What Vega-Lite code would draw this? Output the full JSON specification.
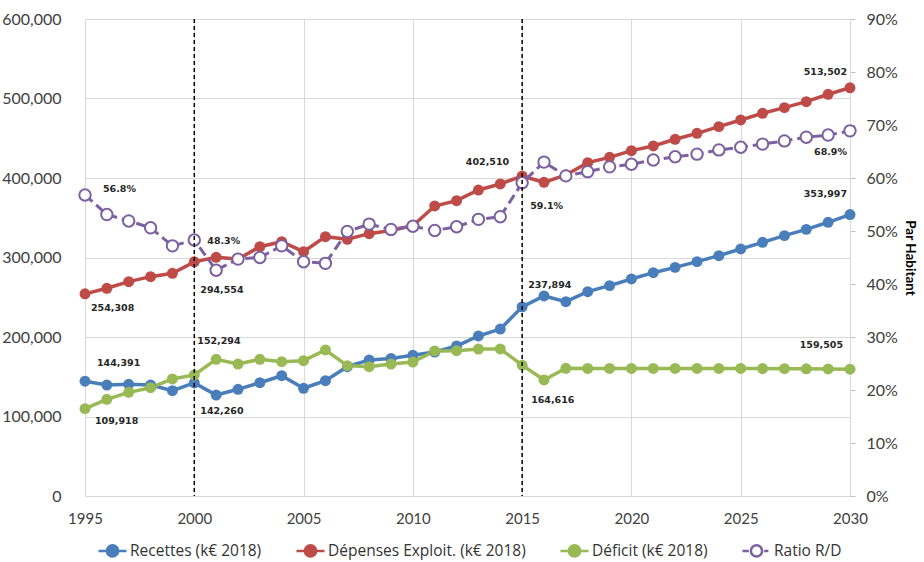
{
  "$schema": "https://vega.github.io/schema/vega-lite/v6.json",
  "width": 765,
  "height": 477,
  "autosize": {"type": "none"},
  "padding": {"left": 85, "top": 19, "right": 74, "bottom": 66},
  "background": "#ffffff",
  "data": {
    "values": [
      {"year": 1995, "R": 144391, "D": 254308, "Def": 109918, "Ratio": 0.568},
      {"year": 1996, "R": 139600, "D": 261300, "Def": 121600, "Ratio": 0.531},
      {"year": 1997, "R": 140500, "D": 269600, "Def": 130400, "Ratio": 0.519},
      {"year": 1998, "R": 139600, "D": 275900, "Def": 136200, "Ratio": 0.506},
      {"year": 1999, "R": 132500, "D": 280100, "Def": 147200, "Ratio": 0.472},
      {"year": 2000, "R": 142260, "D": 294554, "Def": 152294, "Ratio": 0.483},
      {"year": 2001, "R": 127000, "D": 300200, "Def": 172000, "Ratio": 0.426},
      {"year": 2002, "R": 134200, "D": 298000, "Def": 166000, "Ratio": 0.447},
      {"year": 2003, "R": 142500, "D": 313600, "Def": 172000, "Ratio": 0.450},
      {"year": 2004, "R": 151300, "D": 319900, "Def": 168900, "Ratio": 0.472},
      {"year": 2005, "R": 135500, "D": 307300, "Def": 170200, "Ratio": 0.442},
      {"year": 2006, "R": 145000, "D": 326200, "Def": 183700, "Ratio": 0.439},
      {"year": 2007, "R": 162700, "D": 322900, "Def": 164000, "Ratio": 0.499},
      {"year": 2008, "R": 171000, "D": 330000, "Def": 162700, "Ratio": 0.513},
      {"year": 2009, "R": 173000, "D": 334000, "Def": 166000, "Ratio": 0.503},
      {"year": 2010, "R": 177000, "D": 340000, "Def": 168500, "Ratio": 0.509},
      {"year": 2011, "R": 181100, "D": 364800, "Def": 182400, "Ratio": 0.501},
      {"year": 2012, "R": 188700, "D": 371500, "Def": 182800, "Ratio": 0.508},
      {"year": 2013, "R": 201300, "D": 384900, "Def": 184900, "Ratio": 0.522},
      {"year": 2014, "R": 210000, "D": 392500, "Def": 185000, "Ratio": 0.527},
      {"year": 2015, "R": 237894, "D": 402510, "Def": 164616, "Ratio": 0.591},
      {"year": 2016, "R": 251600, "D": 394600, "Def": 146000, "Ratio": 0.630},
      {"year": 2017, "R": 244400, "D": 403800, "Def": 160600, "Ratio": 0.604},
      {"year": 2018, "R": 257000, "D": 419300, "Def": 160500, "Ratio": 0.612},
      {"year": 2019, "R": 264600, "D": 426000, "Def": 160500, "Ratio": 0.621},
      {"year": 2020, "R": 273000, "D": 434400, "Def": 160500, "Ratio": 0.626},
      {"year": 2021, "R": 280900, "D": 440300, "Def": 160500, "Ratio": 0.634},
      {"year": 2022, "R": 287600, "D": 448700, "Def": 160500, "Ratio": 0.640},
      {"year": 2023, "R": 294800, "D": 456200, "Def": 160500, "Ratio": 0.645},
      {"year": 2024, "R": 302300, "D": 464600, "Def": 160500, "Ratio": 0.653},
      {"year": 2025, "R": 310700, "D": 473000, "Def": 160400, "Ratio": 0.658},
      {"year": 2026, "R": 319100, "D": 481400, "Def": 160300, "Ratio": 0.664},
      {"year": 2027, "R": 327500, "D": 488500, "Def": 160200, "Ratio": 0.670},
      {"year": 2028, "R": 335400, "D": 496000, "Def": 160000, "Ratio": 0.677},
      {"year": 2029, "R": 344300, "D": 505300, "Def": 159800, "Ratio": 0.681},
      {"year": 2030, "R": 353997, "D": 513502, "Def": 159505, "Ratio": 0.689}
    ]
  },
  "config": {
    "view": {"stroke": null},
    "font": "Lato",
    "axis": {
      "labelFont": "Lato",
      "labelFontSize": 15,
      "labelColor": "#404040",
      "gridColor": "#d9d9d9",
      "gridWidth": 1,
      "title": null
    },
    "text": {"font": "DejaVu Sans", "fontSize": 9.5, "fontWeight": "bold"}
  },
  "layer": [
    {
      "transform": [{"fold": ["R", "D", "Def"], "as": ["k", "v"]}],
      "encoding": {
        "x": {
          "field": "year",
          "type": "quantitative",
          "scale": {"domain": [1995, 2030], "nice": false, "zero": false},
          "axis": {
            "values": [1995, 2000, 2005, 2010, 2015, 2020, 2025, 2030],
            "format": "d",
            "ticks": false,
            "domain": false,
            "labelPadding": 15,
            "labelFlush": false,
            "grid": true
          }
        },
        "y": {
          "field": "v",
          "type": "quantitative",
          "scale": {"domain": [0, 600000], "nice": false},
          "axis": {
            "values": [0, 100000, 200000, 300000, 400000, 500000, 600000],
            "format": ",d",
            "labelFontSize": 16,
            "ticks": false,
            "domain": false,
            "labelPadding": 24,
            "grid": true
          }
        },
        "color": {
          "field": "k",
          "type": "nominal",
          "scale": {
            "domain": ["R", "D", "Def", "Ratio"],
            "range": ["#4a7ebb", "#be4b48", "#98b954", "#7d60a0"]
          },
          "legend": {
            "orient": "none",
            "legendX": 12,
            "legendY": 516,
            "direction": "horizontal",
            "title": null,
            "labelFont": "Open Sans",
            "labelFontSize": 15.5,
            "labelColor": "#333333",
            "labelLimit": 400,
            "labelOffset": 2,
            "columnPadding": 29,
            "symbolSize": 784,
            "labelExpr": "{'R': 'Recettes (k€ 2018)', 'D': 'Dépenses Exploit. (k€ 2018)', 'Def': 'Déficit (k€ 2018)', 'Ratio': 'Ratio R/D'}[datum.value]",
            "encode": {
              "symbols": {
                "update": {
                  "shape": {"signal": "datum.value === 'Ratio' ? 'M-1,0L-0.55,0M0.55,0L0.85,0M0.4,0A0.4,0.4 0 1,1 -0.4,0A0.4,0.4 0 1,1 0.4,0Z' : 'M-1,0L1,0M0.4,0A0.4,0.4 0 1,1 -0.4,0A0.4,0.4 0 1,1 0.4,0Z'"},
                  "fillOpacity": {"signal": "datum.value === 'Ratio' ? 0 : 1"},
                  "strokeWidth": {"value": 2.5}
                }
              }
            }
          }
        }
      },
      "layer": [
        {"mark": {"type": "line", "strokeWidth": 3.5}},
        {"mark": {"type": "circle", "size": 120, "opacity": 1}},
        {
          "transform": [{"filter": "datum.k == 'R' && datum.year == 1995"}],
          "mark": {"type": "text", "align": "left", "dx": 12, "dy": -18},
          "encoding": {"text": {"field": "v", "format": ","}, "color": {"value": "#262626"}}
        },
        {
          "transform": [{"filter": "datum.k == 'D' && datum.year == 1995"}],
          "mark": {"type": "text", "align": "left", "dx": 6, "dy": 14},
          "encoding": {"text": {"field": "v", "format": ","}, "color": {"value": "#262626"}}
        },
        {
          "transform": [{"filter": "datum.k == 'Def' && datum.year == 1995"}],
          "mark": {"type": "text", "align": "left", "dx": 10, "dy": 12},
          "encoding": {"text": {"field": "v", "format": ","}, "color": {"value": "#262626"}}
        },
        {
          "transform": [{"filter": "datum.k == 'D' && datum.year == 2000"}],
          "mark": {"type": "text", "align": "left", "dx": 6, "dy": 28},
          "encoding": {"text": {"field": "v", "format": ","}, "color": {"value": "#262626"}}
        },
        {
          "transform": [{"filter": "datum.k == 'Def' && datum.year == 2000"}],
          "mark": {"type": "text", "align": "left", "dx": 3, "dy": -34},
          "encoding": {"text": {"field": "v", "format": ","}, "color": {"value": "#262626"}}
        },
        {
          "transform": [{"filter": "datum.k == 'R' && datum.year == 2000"}],
          "mark": {"type": "text", "align": "left", "dx": 6, "dy": 28},
          "encoding": {"text": {"field": "v", "format": ","}, "color": {"value": "#262626"}}
        },
        {
          "transform": [{"filter": "datum.k == 'D' && datum.year == 2015"}],
          "mark": {"type": "text", "align": "right", "dx": -13, "dy": -14},
          "encoding": {"text": {"field": "v", "format": ","}, "color": {"value": "#262626"}}
        },
        {
          "transform": [{"filter": "datum.k == 'R' && datum.year == 2015"}],
          "mark": {"type": "text", "align": "left", "dx": 6, "dy": -22},
          "encoding": {"text": {"field": "v", "format": ","}, "color": {"value": "#262626"}}
        },
        {
          "transform": [{"filter": "datum.k == 'Def' && datum.year == 2015"}],
          "mark": {"type": "text", "align": "left", "dx": 9, "dy": 35},
          "encoding": {"text": {"field": "v", "format": ","}, "color": {"value": "#262626"}}
        },
        {
          "transform": [{"filter": "datum.k == 'D' && datum.year == 2030"}],
          "mark": {"type": "text", "align": "right", "dx": -3, "dy": -16},
          "encoding": {"text": {"field": "v", "format": ","}, "color": {"value": "#262626"}}
        },
        {
          "transform": [{"filter": "datum.k == 'R' && datum.year == 2030"}],
          "mark": {"type": "text", "align": "right", "dx": -3, "dy": -21},
          "encoding": {"text": {"field": "v", "format": ","}, "color": {"value": "#262626"}}
        },
        {
          "transform": [{"filter": "datum.k == 'Def' && datum.year == 2030"}],
          "mark": {"type": "text", "align": "right", "dx": -7, "dy": -24},
          "encoding": {"text": {"field": "v", "format": ","}, "color": {"value": "#262626"}}
        }
      ]
    },
    {
      "transform": [{"fold": ["Ratio"], "as": ["k", "v"]}],
      "encoding": {
        "x": {"field": "year", "type": "quantitative"},
        "y": {
          "field": "v",
          "type": "quantitative",
          "scale": {"domain": [0, 0.9], "nice": false},
          "axis": {
            "orient": "right",
            "values": [0, 0.1, 0.2, 0.3, 0.4, 0.5, 0.6, 0.7, 0.8, 0.9],
            "format": ".0%",
            "labelFontSize": 16,
            "grid": false,
            "ticks": true,
            "tickSize": 5,
            "tickColor": "#bfbfbf",
            "domain": true,
            "domainColor": "#d9d9d9",
            "labelPadding": 11,
            "title": "Par Habitant",
            "titleFont": "Lato",
            "titleFontSize": 13.5,
            "titleFontWeight": "bold",
            "titleColor": "#000000",
            "titlePadding": 5
          }
        },
        "color": {"field": "k", "type": "nominal"}
      },
      "layer": [
        {"mark": {"type": "line", "strokeWidth": 3, "strokeDash": [10, 5]}},
        {
          "mark": {"type": "circle", "size": 130, "stroke": "#7d60a0", "strokeWidth": 2, "opacity": 1},
          "encoding": {"color": {"value": "#ffffff"}}
        },
        {
          "transform": [{"filter": "datum.year == 1995"}],
          "mark": {"type": "text", "align": "left", "dx": 18, "dy": -6},
          "encoding": {"text": {"field": "v", "format": ".1%"}, "color": {"value": "#262626"}}
        },
        {
          "transform": [{"filter": "datum.year == 2000"}],
          "mark": {"type": "text", "align": "left", "dx": 13, "dy": 1},
          "encoding": {"text": {"field": "v", "format": ".1%"}, "color": {"value": "#262626"}}
        },
        {
          "transform": [{"filter": "datum.year == 2015"}],
          "mark": {"type": "text", "align": "left", "dx": 8, "dy": 23},
          "encoding": {"text": {"field": "v", "format": ".1%"}, "color": {"value": "#262626"}}
        },
        {
          "transform": [{"filter": "datum.year == 2030"}],
          "mark": {"type": "text", "align": "right", "dx": -3, "dy": 21},
          "encoding": {"text": {"field": "v", "format": ".1%"}, "color": {"value": "#262626"}}
        }
      ]
    },
    {
      "data": {"values": [{"year": 2000}, {"year": 2015}]},
      "mark": {"type": "rule", "color": "#000000", "strokeWidth": 1.5, "strokeDash": [4, 3]},
      "encoding": {"x": {"field": "year", "type": "quantitative"}}
    }
  ],
  "resolve": {"scale": {"y": "independent", "color": "shared"}, "axis": {"y": "independent"}}
}
